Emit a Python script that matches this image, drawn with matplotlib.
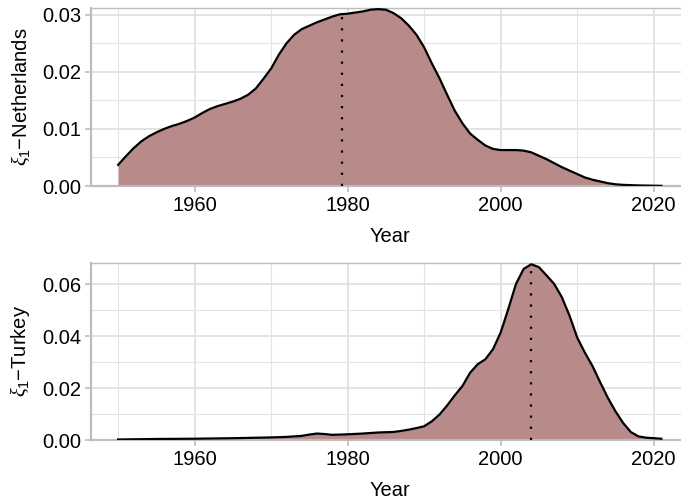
import matplotlib
matplotlib.use("Agg")
import matplotlib.pyplot as plt
import numpy as np
from matplotlib.ticker import MultipleLocator

plt.rcParams['font.family'] = ['Liberation Sans', 'DejaVu Sans']
plt.rcParams['mathtext.fontset'] = 'custom'
plt.rcParams['mathtext.rm'] = 'Liberation Sans'
plt.rcParams['mathtext.it'] = 'Liberation Serif:italic'

# Density of xi_1 over years, Netherlands
nl_year = list(range(1950, 2017)) + [2018, 2020, 2021]
nl_dens = [0.0037, 0.0052, 0.0066, 0.0078, 0.0087, 0.0094, 0.0100, 0.0105,
           0.0109, 0.0114, 0.0120, 0.0128, 0.0135, 0.0140, 0.0144, 0.0148,
           0.0153, 0.0160, 0.0171, 0.0188, 0.0206, 0.0230, 0.0250, 0.0265,
           0.0275, 0.0281, 0.0287, 0.0292, 0.0297, 0.0301, 0.0302, 0.0304,
           0.0306, 0.0309, 0.0310, 0.0309, 0.0303, 0.0294, 0.0281, 0.0265,
           0.0243, 0.0215, 0.0189, 0.0160, 0.0132, 0.0110, 0.0092, 0.0081,
           0.0071, 0.0065, 0.0063, 0.0063, 0.0063, 0.0062, 0.0059, 0.0053,
           0.0047, 0.0040, 0.0033, 0.0027, 0.0021, 0.0015, 0.0011, 0.0008,
           0.0005, 0.0003, 0.0002, 0.0001, 0.00005, 0.00003]
nl_mean = 1979.3

# Density of xi_1 over years, Turkey
tr_year = [1950, 1955, 1960, 1965, 1970, 1972, 1974, 1975, 1976, 1977, 1978,
           1980, 1982, 1984, 1986, 1987, 1988] + list(range(1989, 2022))
tr_dens = [0.0002, 0.0004, 0.0005, 0.0007, 0.0010, 0.0012, 0.0016, 0.0021,
           0.0025, 0.0023, 0.0020, 0.0022, 0.0025, 0.0029, 0.0031, 0.0035,
           0.0040, 0.0046, 0.0053, 0.0072, 0.0098, 0.0133, 0.0172, 0.0208,
           0.0259, 0.0292, 0.0311, 0.0350, 0.0414, 0.0505, 0.0601, 0.0659,
           0.0677, 0.0666, 0.0634, 0.0601, 0.0550, 0.0479, 0.0395, 0.0337,
           0.0285, 0.0223, 0.0163, 0.0111, 0.0066, 0.0031, 0.0014, 0.0009,
           0.0007, 0.0005]
tr_mean = 2004.0

panels = [
    (nl_year, nl_dens, nl_mean, r'$\xi_1$−Netherlands', 0.0312, 0.01),
    (tr_year, tr_dens, tr_mean, r'$\xi_1$−Turkey', 0.0683, 0.02),
]

fig = plt.figure(figsize=(6.81, 5.03), dpi=100)
axes = [fig.add_axes([0.1336, 0.6302, 0.8774, 0.3539]),
        fig.add_axes([0.1336, 0.1252, 0.8774, 0.3525])]

fill_col = '#b88a8a'
grid_col = '#e3e3e3'
border_col = '#bdbdbd'

for ax, (yr, d, mu, lab, ytop, ystep) in zip(axes, panels):
    ax.fill_between(yr, d, 0, color=fill_col, lw=0, zorder=2)
    ax.plot(yr, d, color='black', lw=1.6, zorder=3)
    ax.plot([yr[0], yr[-1]], [0, 0], color='#8c7d99', lw=0.8, zorder=3)
    ax.vlines(mu, 0, np.interp(mu, yr, d), colors='black', lw=1.6,
              linestyles=(0, (1, 4)), zorder=4)

    ax.set_xlim(1946.45, 2024.55)
    ax.set_ylim(0, ytop)
    ax.xaxis.set_minor_locator(MultipleLocator(10))
    ax.yaxis.set_major_locator(MultipleLocator(ystep))
    ax.yaxis.set_minor_locator(MultipleLocator(ystep / 2))
    ax.set_xticks([1960, 1980, 2000, 2020])
    yt = [v for v in ax.get_yticks() if v <= ytop]
    ax.set_yticks(yt)
    ax.set_yticklabels([f'{v:.2f}' for v in yt])
    ax.set_ylim(0, ytop)

    ax.grid(True, which='major', color=grid_col, lw=1.4, zorder=0)
    ax.grid(True, which='minor', color=grid_col, lw=0.8, zorder=0)
    ax.set_axisbelow(True)

    for s in ax.spines.values():
        s.set_color(border_col)
        s.set_linewidth(1.0)
    ax.spines['bottom'].set_linewidth(1.6)
    ax.spines['left'].set_linewidth(1.6)
    ax.tick_params(which='major', color=border_col, length=4, width=1.2,
                   labelsize=14.5, labelcolor='black', pad=3)
    ax.tick_params(which='minor', length=0)

    ax.set_xlabel('Year', fontsize=14.5, labelpad=9, color='black')
    ax.set_ylabel(lab, fontsize=14.5, labelpad=7, color='black')

fig.savefig('out.png', dpi=100)
